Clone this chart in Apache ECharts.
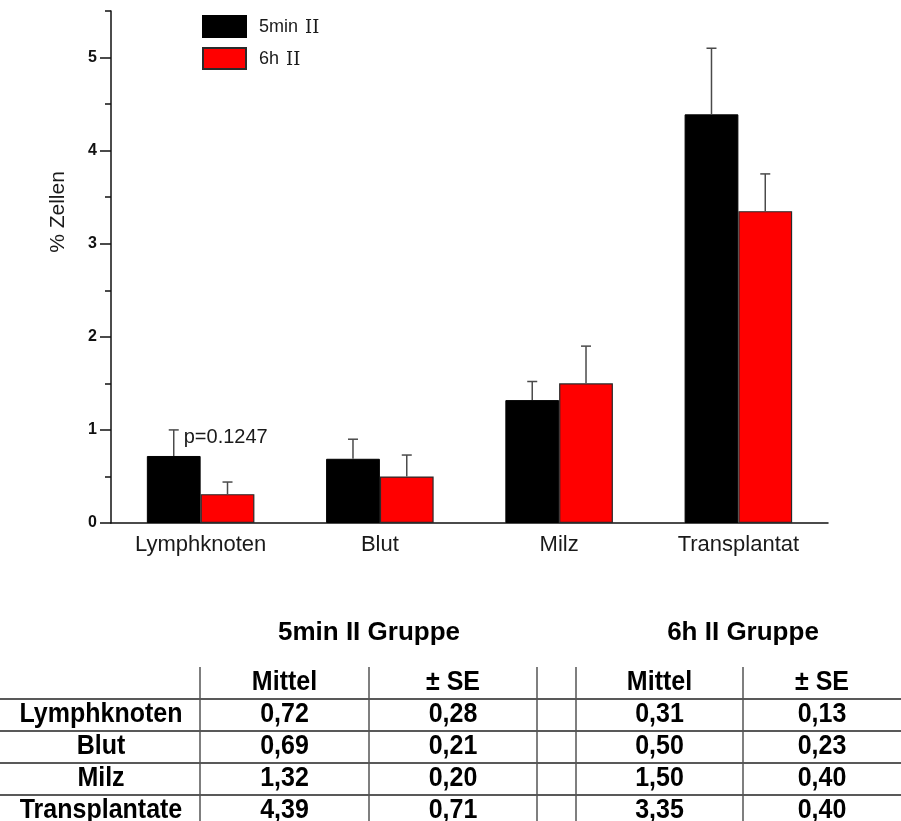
<!DOCTYPE html>
<html>
<head>
<meta charset="utf-8">
<script src="https://cdn.jsdelivr.net/npm/echarts@6/dist/echarts.min.js"></script>
<style>
  html, body { margin: 0; padding: 0; background: #ffffff; }
  #chart { width: 901px; height: 821px; }
</style>
</head>
<body>
<div id="chart"></div>
<script>
// Tissue categories on the x axis and the row labels of the summary table
const categories = ['Lymphknoten', 'Blut', 'Milz', 'Transplantat'];
const tableRows = ['Lymphknoten', 'Blut', 'Milz', 'Transplantate'];

// Group means and standard errors (% Zellen)
const mean5min = [0.72, 0.69, 1.32, 4.39];
const se5min = [0.28, 0.21, 0.20, 0.71];
const mean6h = [0.31, 0.50, 1.50, 3.35];
const se6h = [0.13, 0.23, 0.40, 0.40];

const seriesNames = ['5min II', '6h II'];
const groupTitles = ['5min II Gruppe', '6h II Gruppe'];
const columnHeads = ['Mittel', '\u00B1 SE'];

// Y axis ticks: long ticks with labels at integers, short ticks at halves
const majorTicks = [0, 1, 2, 3, 4, 5];
const minorTicks = [0.5, 1.5, 2.5, 3.5, 4.5, 5.5];

// Significance note attached to the first category's 5min bar
const pNote = { index: 0, text: 'p=0.1247' };

const SANS = '"Liberation Sans", Arial, sans-serif';
const SERIF = '"DejaVu Serif", "Liberation Serif", serif';

const chart = echarts.init(document.getElementById('chart'), null, { renderer: 'canvas' });

// Upward-only error whiskers drawn on top of a bar series
function errorSeries(means, ses, side, withNote) {
  return {
    type: 'custom',
    z: 5,
    silent: true,
    data: means.map((m, i) => [i, m, m + ses[i]]),
    encode: { x: 0, y: [1, 2] },
    renderItem(params, api) {
      const i = api.value(0);
      const band = api.size([1, 0])[0];
      const base = api.coord([i, api.value(1)]);
      const top = api.coord([i, api.value(2)]);
      const x = base[0] + side * band * 0.15;
      const stroke = { stroke: '#4a4a4a', lineWidth: 1.5 };
      const children = [
        { type: 'line', shape: { x1: x, y1: base[1], x2: x, y2: top[1] }, style: stroke },
        { type: 'line', shape: { x1: x - 5, y1: top[1], x2: x + 5, y2: top[1] }, style: stroke }
      ];
      if (withNote && i === pNote.index) {
        children.push({
          type: 'text',
          x: x + 10,
          y: top[1] + 8,
          style: {
            text: pNote.text, fill: '#1a1a1a', fontSize: 20, fontFamily: SANS,
            align: 'left', verticalAlign: 'middle'
          }
        });
      }
      return { type: 'group', children };
    }
  };
}

// Summary table below the chart
const fmt = v => v.toFixed(2).replace('.', ',');
const colLines = [200, 369, 537, 576, 743];
const rowLines = [699, 731, 763, 795];
const tableTop = 667;
const cellCenters = [284.5, 453, 659.5, 822];
const tableGraphics = [];
const lineStyle = { stroke: '#222', lineWidth: 1.5 };
rowLines.forEach(y => tableGraphics.push({
  type: 'line', shape: { x1: 0, y1: y, x2: 901, y2: y }, style: lineStyle
}));
colLines.forEach(x => tableGraphics.push({
  type: 'line', shape: { x1: x, y1: tableTop, x2: x, y2: 821 }, style: { stroke: '#555', lineWidth: 1.5 }
}));
function cellText(text, x, y, size, stretch) {
  return {
    type: 'text', x, y, scaleY: stretch || 1.1,
    style: {
      text, fill: '#000', fontSize: size || 25, fontWeight: 'bold', fontFamily: SANS,
      align: 'center', verticalAlign: 'middle'
    }
  };
}
tableGraphics.push(cellText(groupTitles[0], 369, 633, 26, 1));
tableGraphics.push(cellText(groupTitles[1], 743, 633, 26, 1));
[0, 1, 2, 3].forEach(c => tableGraphics.push(cellText(columnHeads[c % 2], cellCenters[c], 682)));
const columns = [mean5min, se5min, mean6h, se6h];
tableRows.forEach((row, r) => {
  const y = rowLines[r] + 15;
  tableGraphics.push(cellText(row, 101, y));
  columns.forEach((col, c) => tableGraphics.push(cellText(fmt(col[r]), cellCenters[c], y)));
});

// Rotated y-axis title
tableGraphics.push({
  type: 'text', x: 58, y: 212, rotation: Math.PI / 2,
  style: {
    text: '% Zellen', fill: '#1a1a1a', fontSize: 21, fontFamily: SANS,
    align: 'center', verticalAlign: 'middle'
  }
});

const option = {
  animation: false,
  backgroundColor: '#ffffff',
  grid: { left: 111, right: 73, top: 11, bottom: 298, containLabel: false },
  legend: {
    data: seriesNames,
    orient: 'vertical',
    left: 202,
    top: 15,
    padding: 0,
    itemWidth: 43,
    itemHeight: 21,
    itemGap: 9,
    icon: 'rect',
    selectedMode: false,
    formatter: name => name.replace(' II', ' {r|II}'),
    textStyle: {
      fontSize: 18, fontFamily: SANS, color: '#1a1a1a', padding: [2, 0, 0, 8],
      rich: { r: { fontSize: 18, fontFamily: SERIF, color: '#1a1a1a', padding: [2, 0, 0, 2] } }
    }
  },
  xAxis: {
    type: 'category',
    data: categories,
    boundaryGap: true,
    axisLine: { lineStyle: { color: '#111', width: 1.5 } },
    axisTick: { show: false },
    axisLabel: { fontSize: 22, fontFamily: SANS, color: '#1a1a1a', margin: 11 },
    splitLine: { show: false }
  },
  yAxis: [
    {
      type: 'value', min: 0, max: 5.5,
      axisLine: { show: true, lineStyle: { color: '#111', width: 1.5 } },
      axisTick: { show: true, length: 11, customValues: majorTicks, lineStyle: { color: '#111', width: 1.5 } },
      axisLabel: {
        customValues: majorTicks, fontSize: 16, fontWeight: 'bold', fontFamily: SANS,
        color: '#111', margin: 14
      },
      splitLine: { show: false }
    },
    {
      type: 'value', min: 0, max: 5.5, position: 'left',
      axisLine: { show: false },
      axisTick: { show: true, length: 6, customValues: minorTicks, lineStyle: { color: '#111', width: 1.5 } },
      axisLabel: { show: false },
      splitLine: { show: false }
    }
  ],
  series: [
    {
      name: seriesNames[0], type: 'bar', data: mean5min,
      barWidth: '30%', barGap: '0%',
      itemStyle: { color: '#000000', borderColor: '#000000', borderWidth: 1 }
    },
    {
      name: seriesNames[1], type: 'bar', data: mean6h,
      barWidth: '30%', barGap: '0%',
      itemStyle: { color: '#ff0000', borderColor: '#2a2a2a', borderWidth: 1.2 }
    },
    errorSeries(mean5min, se5min, -1, true),
    errorSeries(mean6h, se6h, 1, false)
  ],
  graphic: tableGraphics
};

chart.setOption(option);
</script>
</body>
</html>
